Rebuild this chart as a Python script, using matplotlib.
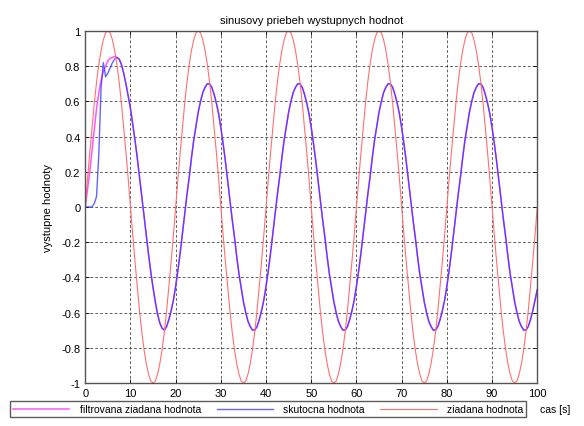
import numpy as np
import matplotlib
matplotlib.use('Agg')
import matplotlib.pyplot as plt

plt.rcParams['font.family'] = ['Liberation Sans', 'DejaVu Sans']

# cas [s], krok 0.5 s
t = np.arange(201) * 0.5

# ziadana hodnota (odcitane z grafu, jedna perioda = 40 bodov)
ziadana = [
    0, .16, .31, .45, .59, .71, .81, .89, .95, .99, 1, .99, .95, .89, .81, .71, .59, .45, .31, .16,
    0, -.16, -.31, -.45, -.59, -.71, -.81, -.89, -.95, -.99, -1, -.99, -.95, -.89, -.81, -.71, -.59, -.45, -.31, -.16,
    0, .16, .31, .45, .59, .71, .81, .89, .95, .99, 1, .99, .95, .89, .81, .71, .59, .45, .31, .16,
    0, -.16, -.31, -.45, -.59, -.71, -.81, -.89, -.95, -.99, -1, -.99, -.95, -.89, -.81, -.71, -.59, -.45, -.31, -.16,
    0, .16, .31, .45, .59, .71, .81, .89, .95, .99, 1, .99, .95, .89, .81, .71, .59, .45, .31, .16,
    0, -.16, -.31, -.45, -.59, -.71, -.81, -.89, -.95, -.99, -1, -.99, -.95, -.89, -.81, -.71, -.59, -.45, -.31, -.16,
    0, .16, .31, .45, .59, .71, .81, .89, .95, .99, 1, .99, .95, .89, .81, .71, .59, .45, .31, .16,
    0, -.16, -.31, -.45, -.59, -.71, -.81, -.89, -.95, -.99, -1, -.99, -.95, -.89, -.81, -.71, -.59, -.45, -.31, -.16,
    0, .16, .31, .45, .59, .71, .81, .89, .95, .99, 1, .99, .95, .89, .81, .71, .59, .45, .31, .16,
    0, -.16, -.31, -.45, -.59, -.71, -.81, -.89, -.95, -.99, -1, -.99, -.95, -.89, -.81, -.71, -.59, -.45, -.31, -.16,
    0,
]

# filtrovana ziadana hodnota
filtrovana = [
    0, .10, .20, .32, .44, .56, .65, .72, .77, .80, .83, .845, .85, .855, .85, .84, .81, .76, .70, .63,
    .56, .47, .38, .28, .17, .06, -.05, -.16, -.27, -.37, -.46, -.54, -.61, -.66, -.69, -.70, -.68, -.64, -.59, -.53,
    -.45, -.36, -.26, -.15, -.04, .07, .17, .28, .38, .46, .54, .60, .65, .68, .70, .70, .68, .64, .59, .53,
    .45, .36, .26, .15, .04, -.07, -.17, -.28, -.38, -.46, -.54, -.60, -.65, -.68, -.70, -.70, -.68, -.64, -.59, -.53,
    -.45, -.36, -.26, -.15, -.04, .07, .17, .28, .38, .46, .54, .60, .65, .68, .70, .70, .68, .64, .59, .53,
    .45, .36, .26, .15, .04, -.07, -.17, -.28, -.38, -.46, -.54, -.60, -.65, -.68, -.70, -.70, -.68, -.64, -.59, -.53,
    -.45, -.36, -.26, -.15, -.04, .07, .17, .28, .38, .46, .54, .60, .65, .68, .70, .70, .68, .64, .59, .53,
    .45, .36, .26, .15, .04, -.07, -.17, -.28, -.38, -.46, -.54, -.60, -.65, -.68, -.70, -.70, -.68, -.64, -.59, -.53,
    -.45, -.36, -.26, -.15, -.04, .07, .17, .28, .38, .46, .54, .60, .65, .68, .70, .70, .68, .64, .59, .53,
    .45, .36, .26, .15, .04, -.07, -.17, -.28, -.38, -.46, -.54, -.60, -.65, -.68, -.70, -.70, -.68, -.64, -.59, -.53,
    -.47,
]

# skutocna hodnota - zaciatok (0 az 7 s), potom zhodna s filtrovanou
skutocna_start = [0, 0, 0, 0, .02, .06, .30, .68, .82, .74, .76, .79, .82, .84]
skutocna = skutocna_start + filtrovana[len(skutocna_start):]

yticks = [-1, -0.8, -0.6, -0.4, -0.2, 0, 0.2, 0.4, 0.6, 0.8, 1]

fig = plt.figure(figsize=(5.84, 4.27), dpi=100)
ax = fig.add_axes([0.146, 0.101, 0.774, 0.824])

ax.plot(t, filtrovana, color='#ff55ff', lw=1.1, label='filtrovana ziadana hodnota')
ax.plot(t, skutocna, color='#3030ff', lw=1.0, alpha=0.75, label='skutocna hodnota')
ax.plot(t, ziadana, color='#ff7070', lw=0.8, label='ziadana hodnota')

ax.set_xlim(0, 100)
ax.set_ylim(-1, 1)
ax.set_xticks(np.arange(0, 101, 10))
ax.set_yticks(yticks)
ax.set_yticklabels(['%g' % v for v in yticks])
ax.tick_params(direction='in', top=True, right=True, labelsize=8, length=3, width=0.6)
ax.grid(True, color='#222222', linestyle=(0, (4, 3)), lw=0.5)
for s in ax.spines.values():
    s.set_color('#555555')
    s.set_linewidth(1.0)

ax.set_title('sinusovy priebeh wystupnych hodnot', fontsize=8, pad=6)
ax.set_ylabel('vystupne hodnoty', fontsize=8, labelpad=6)
fig.text(0.925, 0.04, 'cas [s]', fontsize=7.5, va='center', ha='left')

fig.legend(loc='upper left', bbox_to_anchor=(0.017, 0.058), ncol=3, fontsize=7.5,
           frameon=True, fancybox=False, edgecolor='#333333', handlelength=5.4,
           borderpad=0.3, columnspacing=1.5, handletextpad=1.0, borderaxespad=0)

fig.savefig('out.png', dpi=100)
